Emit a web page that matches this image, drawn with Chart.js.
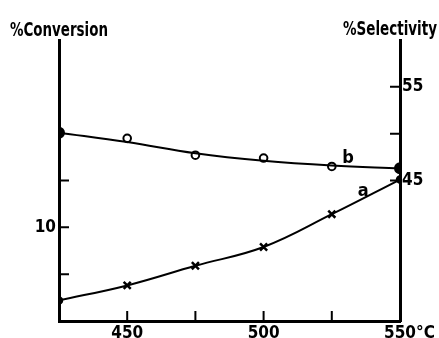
<!DOCTYPE html>
<html><head><meta charset="utf-8">
<script src="https://cdn.jsdelivr.net/npm/chart.js@4/dist/chart.umd.min.js"></script>
<style>html,body{margin:0;padding:0;background:#fff}#wrap{width:439px;height:338px}</style>
</head><body><div id="wrap"><canvas id="c" width="439" height="338"></canvas></div>
<script>
// Data
const temps = [425, 450, 475, 500, 525, 550];
const conversion = [2.2, 3.8, 5.9, 7.9, 11.4, 15.1];        // curve a (left axis, crosses)
const selectivityMarks = [50.1, 49.5, 47.7, 47.4, 46.5, 46.3]; // markers of b (right axis)
const selectivityCurve = [50.1, 49.1, 47.9, 47.1, 46.6, 46.3]; // fitted curve b
const xTickValues = [450, 475, 500, 525, 550];
const xTickLabels = ['450', '', '500', '', '550'];
const convTickValues = [5, 10, 15];
const convTickLabels = ['', '10', ''];
const selTickValues = [45, 50, 55];
const selTickLabels = ['45', '', '55'];

const FONT = "'DejaVu Sans Condensed','DejaVu Sans',sans-serif";
const WEIGHT = 'bold condensed';
const pts = (ys) => temps.map((t, i) => ({x: t, y: ys[i]}));

const lastIdx = temps.length - 1;
const aStyles = temps.map((t, i) => (i === 0 || i === lastIdx) ? 'circle' : 'crossRot');
const aRadius = temps.map((t, i) => (i === 0 || i === lastIdx) ? 3 : 5);
const bFill = temps.map((t, i) => (i === 0 || i === lastIdx) ? '#000' : '#fff');
const bRadius = temps.map((t, i) => (i === 0 || i === lastIdx) ? 5 : 3.8);

const decor = {
  id: 'decor',
  afterDraw(chart) {
    const ctx = chart.ctx;
    const xs = chart.scales.x, yl = chart.scales.yL, yr = chart.scales.yR;
    const ca = chart.chartArea;
    ctx.save();
    ctx.strokeStyle = '#000';
    ctx.lineWidth = 2;
    ctx.beginPath();
    convTickValues.forEach(v => { const y = yl.getPixelForValue(v); ctx.moveTo(ca.left, y); ctx.lineTo(ca.left + 10, y); });
    selTickValues.forEach(v => { const y = yr.getPixelForValue(v); ctx.moveTo(ca.right, y); ctx.lineTo(ca.right - 10, y); });
    xTickValues.slice(0, -1).forEach(v => { const x = xs.getPixelForValue(v); ctx.moveTo(x, ca.bottom); ctx.lineTo(x, ca.bottom - 10); });
    ctx.stroke();
    ctx.fillStyle = '#000';
    ctx.textBaseline = 'alphabetic';
    ctx.font = WEIGHT + " 19px " + FONT;
    ctx.textAlign = 'left';
    ctx.fillText('%Conversion', 10, 36, 98);
    ctx.textAlign = 'right';
    ctx.fillText('%Selectivity', 437, 35, 94);
    ctx.font = WEIGHT + " 17px " + FONT;
    ctx.textAlign = 'left';
    ctx.fillText('°C', 416, 338);
    // curve labels
    ctx.font = WEIGHT + " 18px " + FONT;
    ctx.textAlign = 'center';
    ctx.fillText('b', xs.getPixelForValue(531), yr.getPixelForValue(46.9));
    ctx.fillText('a', xs.getPixelForValue(536.5), yl.getPixelForValue(13.3));
    ctx.restore();
  }
};

new Chart(document.getElementById('c'), {
  type: 'line',
  data: {
    datasets: [
      { label: 'a', data: pts(conversion), yAxisID: 'yL', borderColor: '#000', borderWidth: 2,
        tension: 0.4, pointStyle: aStyles, pointRadius: aRadius,
        pointBorderWidth: 2.5, pointBackgroundColor: '#000', pointBorderColor: '#000' },
      { label: 'b curve', data: pts(selectivityCurve), yAxisID: 'yR', borderColor: '#000', borderWidth: 2,
        tension: 0.4, pointRadius: 0 },
      { label: 'b', data: pts(selectivityMarks), yAxisID: 'yR', showLine: false,
        pointStyle: 'circle', pointRadius: bRadius, pointBorderWidth: 2,
        pointBackgroundColor: bFill, pointBorderColor: '#000' }
    ]
  },
  options: {
    responsive: false, animation: false,
    layout: { padding: { top: 40, left: 0, right: 0, bottom: 0 } },
    plugins: { legend: { display: false }, tooltip: { enabled: false } },
    scales: {
      x: {
        type: 'linear', min: 425, max: 550, position: 'bottom',
        afterBuildTicks: s => { s.ticks = xTickValues.map(v => ({value: v})); },
        afterFit: s => { s.height = 17; },
        grid: { display: false, drawTicks: false },
        border: { display: true, width: 3, color: '#000' },
        ticks: { autoSkip: false, maxRotation: 0, padding: 2, color: '#000',
          font: { family: FONT, size: 17, weight: WEIGHT },
          callback: (v) => xTickLabels[xTickValues.indexOf(v)] }
      },
      yL: {
        type: 'linear', min: 0, max: 30, position: 'left',
        afterBuildTicks: s => { s.ticks = convTickValues.map(v => ({value: v})); },
        afterFit: s => { s.width = 59; },
        grid: { display: false, drawTicks: false },
        border: { display: true, width: 3, color: '#000' },
        ticks: { autoSkip: false, padding: 3, color: '#000',
          font: { family: FONT, size: 17, weight: WEIGHT },
          callback: (v) => convTickLabels[convTickValues.indexOf(v)] }
      },
      yR: {
        type: 'linear', min: 30, max: 60, position: 'right',
        afterBuildTicks: s => { s.ticks = selTickValues.map(v => ({value: v})); },
        afterFit: s => { s.width = 39; },
        grid: { display: false, drawTicks: false },
        border: { display: true, width: 3, color: '#000' },
        ticks: { autoSkip: false, padding: 2, color: '#000',
          font: { family: FONT, size: 17, weight: WEIGHT },
          callback: (v) => selTickLabels[selTickValues.indexOf(v)] }
      }
    }
  },
  plugins: [decor]
});
</script></body></html>
